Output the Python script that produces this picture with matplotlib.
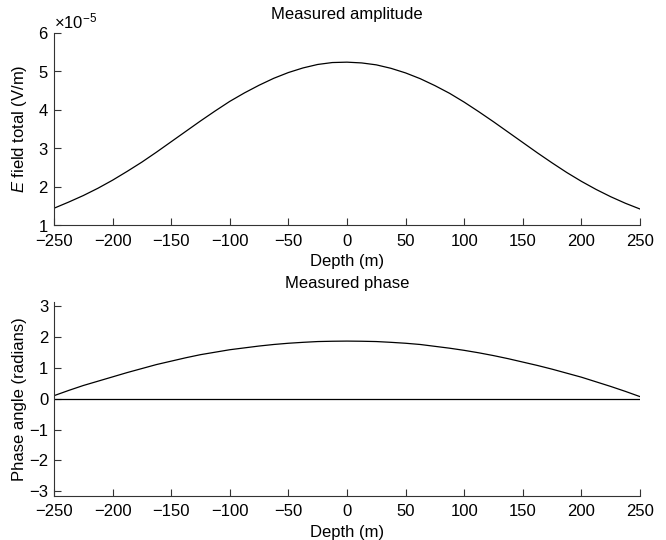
import matplotlib
matplotlib.use("Agg")
import matplotlib.pyplot as plt
from matplotlib.ticker import ScalarFormatter
import numpy as np

plt.rcParams['font.family'] = ['Liberation Sans', 'DejaVu Sans']
plt.rcParams['mathtext.fontset'] = 'custom'
plt.rcParams['mathtext.rm'] = 'Liberation Sans'
plt.rcParams['mathtext.it'] = 'Liberation Sans:italic'
plt.rcParams['font.size'] = 12

# depth samples (m), every 12.5 m
depth = [-250, -237.5, -225, -212.5, -200, -187.5, -175, -162.5, -150, -137.5,
         -125, -112.5, -100, -87.5, -75, -62.5, -50, -37.5, -25, -12.5, 0,
         12.5, 25, 37.5, 50, 62.5, 75, 87.5, 100, 112.5, 125, 137.5, 150,
         162.5, 175, 187.5, 200, 212.5, 225, 237.5, 250]

# measured amplitude, in units of 1e-5 V/m
amplitude = [1.44, 1.60, 1.77, 1.96, 2.17, 2.40, 2.64, 2.90, 3.17, 3.44,
             3.71, 3.97, 4.22, 4.44, 4.64, 4.82, 4.97, 5.09, 5.18, 5.23, 5.24,
             5.22, 5.17, 5.08, 4.96, 4.81, 4.63, 4.43, 4.20, 3.95, 3.69, 3.42, 3.15,
             2.88, 2.62, 2.37, 2.14, 1.93, 1.74, 1.57, 1.42]

# measured phase (radians)
phase = [0.10, 0.27, 0.43, 0.57, 0.71, 0.85, 0.98, 1.11, 1.22, 1.33,
         1.43, 1.51, 1.59, 1.65, 1.71, 1.76, 1.80, 1.83, 1.855, 1.865, 1.87,
         1.865, 1.855, 1.83, 1.80, 1.76, 1.70, 1.64, 1.57, 1.49, 1.40, 1.30, 1.19,
         1.08, 0.96, 0.83, 0.70, 0.55, 0.40, 0.24, 0.07]

xticks = [-250, -200, -150, -100, -50, 0, 50, 100, 150, 200, 250]

fig = plt.figure(figsize=(6.66, 5.4), dpi=100)
ax1 = fig.add_axes([0.081, 0.583, 0.880, 0.356])
ax2 = fig.add_axes([0.081, 0.082, 0.880, 0.359])

for ax in (ax1, ax2):
    ax.spines['top'].set_visible(False)
    ax.spines['right'].set_visible(False)
    ax.spines['left'].set_linewidth(0.8)
    ax.spines['bottom'].set_linewidth(0.8)
    ax.spines['left'].set_color('#333333')
    ax.spines['bottom'].set_color('#333333')
    ax.tick_params(direction='in', length=5, width=0.8, color='#333333')
    ax.tick_params(axis='x', pad=6)
    ax.tick_params(axis='y', pad=4)
    ax.set_xlim(-250, 250)
    ax.set_xticks(xticks)
    ax.set_xlabel('Depth (m)', labelpad=4)

ax1.plot(depth, np.array(amplitude) * 1e-5, color='black', lw=0.9)
ax1.set_ylim(1e-5, 6e-5)
ax1.set_yticks(np.arange(1, 7) * 1e-5)
fmt = ScalarFormatter(useMathText=True)
fmt.set_powerlimits((-3, 3))
ax1.yaxis.set_major_formatter(fmt)
ax1.yaxis.get_offset_text().set_fontsize(12)
ax1.set_ylabel('$E$ field total (V/m)')
ax1.yaxis.set_label_coords(-0.043, 0.5)
ax1.set_title('Measured amplitude', fontsize=12, pad=10)

ax2.plot(depth, phase, color='black', lw=0.9)
ax2.plot([depth[0], depth[-1]], [0, 0], color='black', lw=0.9)
ax2.set_ylim(-np.pi, np.pi)
ax2.set_yticks([-3, -2, -1, 0, 1, 2, 3])
ax2.set_ylabel('Phase angle (radians)')
ax2.yaxis.set_label_coords(-0.046, 0.5)
ax2.set_title('Measured phase', fontsize=12, pad=10)

fig.savefig('out.png', dpi=100)
